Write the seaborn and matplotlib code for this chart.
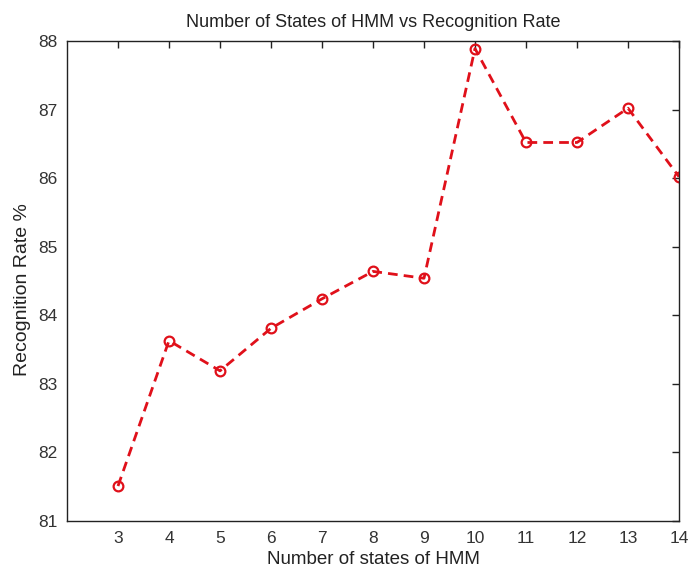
import matplotlib
matplotlib.use("Agg")
import matplotlib.pyplot as plt
import seaborn as sns
import pandas as pd

states = [3, 4, 5, 6, 7, 8, 9, 10, 11, 12, 13, 14]
rates = [81.51, 83.63, 83.19, 83.81, 84.24, 84.64, 84.54, 87.89, 86.52, 86.52, 87.02, 86.02]
x_ticks = [3, 4, 5, 6, 7, 8, 9, 10, 11, 12, 13, 14]
y_ticks = [81, 82, 83, 84, 85, 86, 87, 88]

sns.set_style("white")
plt.rcParams['font.family'] = ['Liberation Sans', 'DejaVu Sans']

df = pd.DataFrame({"states": states, "rate": rates})

fig = plt.figure(figsize=(6.89, 5.69), dpi=100)
ax = fig.add_axes([67/689, 1-521/569, (679-67)/689, (521-41)/569])

sns.lineplot(data=df, x="states", y="rate", ax=ax, color="#e0101a",
             linestyle=(0, (3.5, 2.2)), linewidth=2.0, marker="o",
             markersize=7, markerfacecolor="none", markeredgecolor="#e0101a",
             markeredgewidth=1.6)

ax.set_xlim(2, 14)
ax.set_ylim(81, 88)
ax.set_xticks(x_ticks)
ax.set_yticks(y_ticks)
ax.tick_params(direction="in", length=5, width=1, top=True, right=True,
               labelsize=12.5, colors="#222222", pad=7)
ax.tick_params(labelcolor="#333333")
for s in ax.spines.values():
    s.set_color("#222222")
    s.set_linewidth(1.0)
    s.set_visible(True)

ax.set_title("Number of States of HMM vs Recognition Rate", fontsize=13, color="#222222", pad=10)
ax.set_xlabel("Number of states of HMM", fontsize=13.5, color="#222222", labelpad=4)
ax.set_ylabel("Recognition Rate %", fontsize=14, color="#222222", labelpad=4)
ax.yaxis.set_label_coords(-0.059, 0.483)

fig.savefig("out.png", dpi=100)
